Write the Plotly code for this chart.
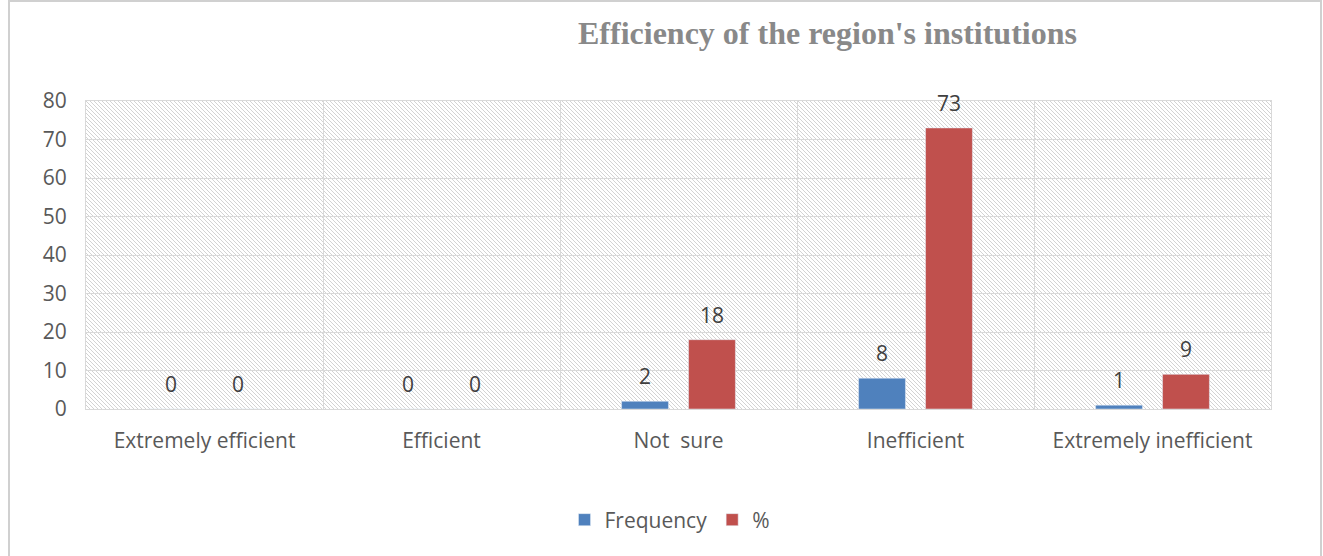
import base64
import plotly.graph_objects as go

categories = ["Extremely efficient", "Efficient", "Not  sure", "Inefficient", "Extremely inefficient"]
frequency = [0, 0, 2, 8, 1]
percent = [0, 0, 18, 73, 9]
series_names = ["Frequency", "%"]
y_ticks = [0, 10, 20, 30, 40, 50, 60, 70, 80]
title_text = "Efficiency of the region's institutions"

BLUE = "#4F81BD"
RED = "#C0504D"
GRID = "#d9d9d9"
FONT = "Open Sans"
FS = 21

W, H = 1323, 556
L, R, T, B = 86, 52, 101, 147
PW, PH = W - L - R, H - T - B

fig = go.Figure()
fig.add_trace(go.Bar(x=categories, y=frequency, name=series_names[0], marker_color=BLUE))
fig.add_trace(go.Bar(x=categories, y=percent, name=series_names[1], marker_color=RED))

# data labels
slot = PW / len(categories) * (1 - 0.435) / 2
annotations = []
for vals, shift in ((frequency, -slot / 2), (percent, slot / 2)):
    for c, v in zip(categories, vals):
        annotations.append(dict(x=c, y=v, xref="x", yref="y", text=str(v), showarrow=False,
                                xshift=shift, yshift=25, font=dict(family=FONT, size=FS, color="#404040")))

annotations.append(dict(text="<b>" + title_text + "</b>", xref="paper", yref="paper",
                        x=(827 - L) / PW, y=1 + (T - 33) / PH, xanchor="center", yanchor="middle",
                        showarrow=False, font=dict(family="Liberation Serif", size=32, color="#898989")))

svg = ('<svg xmlns="http://www.w3.org/2000/svg" width="%d" height="%d">'
       '<defs><pattern id="p" width="4" height="4" patternUnits="userSpaceOnUse">'
       '<path d="M-1,-1 L5,5 M-1,3 L1,5 M3,-1 L5,1" stroke="#d3d3d3" stroke-width="1"/></pattern></defs>'
       '<rect width="100%%" height="100%%" fill="url(#p)"/></svg>') % (PW, PH)
src = "data:image/svg+xml;base64," + base64.b64encode(svg.encode()).decode()

fig.update_layout(
    width=W, height=H,
    margin=dict(l=L, r=R, t=T, b=B),
    paper_bgcolor="white", plot_bgcolor="white",
    barmode="group", bargap=0.435, bargroupgap=0.3,
    font=dict(family=FONT, size=FS, color="#595959"),
    showlegend=True,
    legend=dict(orientation="h", x=(670 - L) / PW, xanchor="center", y=(T + PH - 520) / PH, yanchor="middle",
                font=dict(family=FONT, size=FS, color="#595959"), itemwidth=30, traceorder="normal"),
    annotations=annotations,
    images=[dict(source=src, xref="paper", yref="paper", x=0, y=1, sizex=1, sizey=1,
                 xanchor="left", yanchor="top", sizing="stretch", layer="below")],
    shapes=[dict(type="rect", xref="paper", yref="paper",
                 x0=(9 - L) / PW, x1=(1321 - L) / PW, y0=(T + PH - 560) / PH, y1=(T + PH - 1) / PH,
                 line=dict(color="#d0d0d0", width=2), fillcolor="rgba(0,0,0,0)", layer="below")],
)
fig.update_xaxes(type="category", tickson="boundaries", showgrid=True, gridcolor=GRID, gridwidth=1,
                 showline=True, linecolor=GRID, mirror=True, ticks="", ticklabelstandoff=13,
                 tickfont=dict(family=FONT, size=FS, color="#595959"), fixedrange=True)
fig.update_yaxes(range=[0, 80], tickvals=y_ticks, showgrid=True, gridcolor=GRID, gridwidth=1,
                 showline=True, linecolor=GRID, mirror=True, ticks="", ticklabelstandoff=14, zeroline=False,
                 tickfont=dict(family=FONT, size=FS, color="#595959"))

fig.write_html("out.html", config={"displayModeBar": False},
               post_script="document.body.style.margin='0';document.body.style.overflow='hidden';")
